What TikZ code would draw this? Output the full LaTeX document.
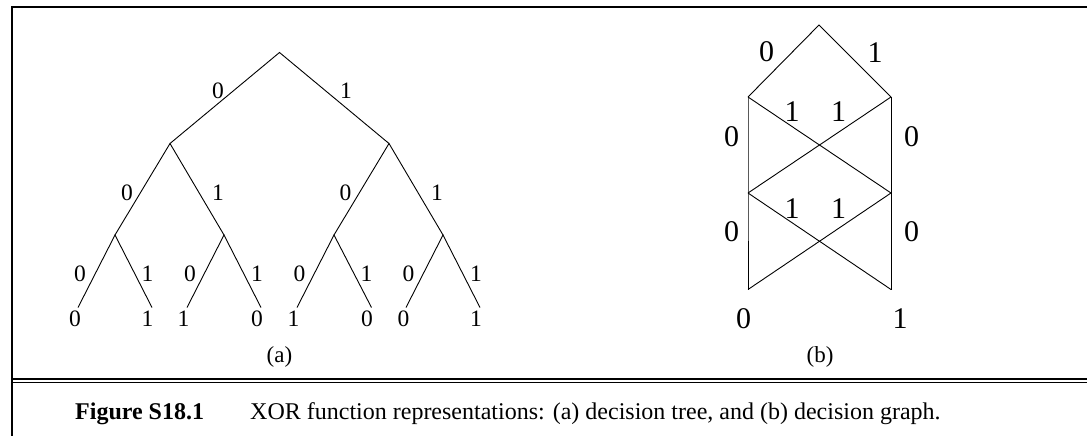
\documentclass[tikz,border=0pt]{standalone}
\usepackage{fontspec}
\setmainfont{Liberation Serif}
\begin{document}
\begin{tikzpicture}[x=1pt,y=-1pt,
  edge/.style={line width=0.9pt},
  framel/.style={line width=2pt},
  rule/.style={line width=1.2pt},
  lab/.style={inner sep=0pt,font=\fontsize{23.5}{26}\selectfont},
  glab/.style={inner sep=0pt,font=\fontsize{30}{34}\selectfont},
  sub/.style={inner sep=0pt,font=\fontsize{23}{26}\selectfont},
  captxt/.style={inner sep=0pt,anchor=base west,font=\fontsize{24}{28}\selectfont}]
\useasboundingbox (0,0) rectangle (1087,436);
% frame
\coordinate (fb) at (12,436);
\coordinate (ftl) at (12,7);
\coordinate (ftr) at (1087,7);
\draw[framel] (fb) -- (ftl) -- (ftr);
\coordinate (d1l) at (12,379);
\coordinate (d1r) at (1087,379);
\coordinate (d2l) at (12,382.5);
\coordinate (d2r) at (1087,382.5);
\draw[rule] (d1l) -- (d1r);
\draw[rule] (d2l) -- (d2r);
% (a) decision tree
\coordinate (r) at (279.5,52.5);
\coordinate (n0) at (170,143.5);
\coordinate (n1) at (389,143.5);
\coordinate (n00) at (115,235);
\coordinate (n01) at (224,235);
\coordinate (n10) at (334,235);
\coordinate (n11) at (443,235);
\coordinate (l000) at (78,307.5);
\coordinate (l001) at (152,307.5);
\coordinate (l010) at (187,307.5);
\coordinate (l011) at (261,307.5);
\coordinate (l100) at (297,307.5);
\coordinate (l101) at (371.5,307.5);
\coordinate (l110) at (406,307.5);
\coordinate (l111) at (480,307.5);
\draw[edge] (n0) -- (r) -- (n1);
\draw[edge] (n00) -- (n0) -- (n01);
\draw[edge] (n10) -- (n1) -- (n11);
\draw[edge] (l000) -- (n00) -- (l001);
\draw[edge] (l010) -- (n01) -- (l011);
\draw[edge] (l100) -- (n10) -- (l101);
\draw[edge] (l110) -- (n11) -- (l111);
% edge labels
\node[lab] (e0) at (218,91) {0};
\node[lab] (e1) at (346,91) {1};
\node[lab] (e00) at (127,192.5) {0};
\node[lab] (e01) at (218,192.5) {1};
\node[lab] (e10) at (345.5,192.5) {0};
\node[lab] (e11) at (437,192.5) {1};
\node[lab] (e000) at (80,273.5) {0};
\node[lab] (e001) at (147.5,273.5) {1};
\node[lab] (e010) at (190,273.5) {0};
\node[lab] (e011) at (257,273.5) {1};
\node[lab] (e100) at (299.5,273.5) {0};
\node[lab] (e101) at (366.5,273.5) {1};
\node[lab] (e110) at (408.5,273.5) {0};
\node[lab] (e111) at (476,273.5) {1};
% leaf values
\node[lab] (v000) at (75,318.5) {0};
\node[lab] (v001) at (147.5,318.5) {1};
\node[lab] (v010) at (183.5,318.5) {1};
\node[lab] (v011) at (257,318.5) {0};
\node[lab] (v100) at (293.5,318.5) {1};
\node[lab] (v101) at (367,318.5) {0};
\node[lab] (v110) at (403.5,318.5) {0};
\node[lab] (v111) at (476,318.5) {1};
\node[sub] (capa) at (279.5,357) {(a)};
% (b) decision graph
\coordinate (t) at (819,25);
\coordinate (a1) at (748,97);
\coordinate (b1) at (891,97);
\coordinate (a2) at (748,193);
\coordinate (b2) at (891,193);
\coordinate (a3) at (748,289.5);
\coordinate (b3) at (891,289.5);
\draw[edge] (a1) -- (t) -- (b1);
\draw[edge] (a1) -- (a2) -- (a3);
\draw[edge] (b1) -- (b2) -- (b3);
\draw[edge] (a1) -- (b2);
\draw[edge] (b1) -- (a2);
\draw[edge] (a2) -- (b3);
\draw[edge] (b2) -- (a3);
\node[glab] (g0) at (766.5,52) {0};
\node[glab] (g1) at (875,53) {1};
\node[glab] (g10) at (792,112) {1};
\node[glab] (g11) at (838.5,112) {1};
\node[glab] (g20) at (731.5,137) {0};
\node[glab] (g21) at (911.5,137) {0};
\node[glab] (g30) at (792,208.5) {1};
\node[glab] (g31) at (838.5,208.5) {1};
\node[glab] (g40) at (731.5,232) {0};
\node[glab] (g41) at (911.5,232) {0};
\node[glab] (gz) at (743.5,318.5) {0};
\node[glab] (go) at (900,318.5) {1};
\node[sub] (capb) at (820,357) {(b)};
% caption
\node[captxt] (figno) at (75,419) {\bfseries Figure S18.1};
\node[captxt] (captext) at (250,419) {XOR function representations: (a) decision tree, and (b) decision graph.};
\end{tikzpicture}
\end{document}
